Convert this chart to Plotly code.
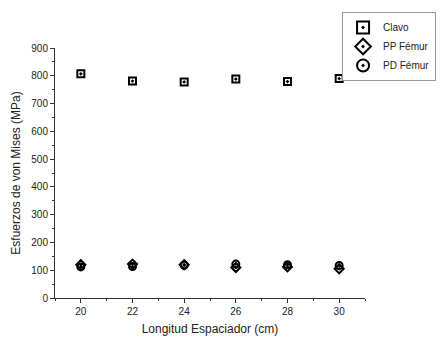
import plotly.graph_objects as go

longitud = [20, 22, 24, 26, 28, 30]
clavo = [807, 781, 778, 788, 779, 790]
pp_femur = [120, 122, 120, 110, 112, 105]
pd_femur = [112, 113, 118, 122, 120, 117]

fig = go.Figure()
series = [("Clavo", clavo, "square-open-dot"),
          ("PP Fémur", pp_femur, "diamond-open-dot"),
          ("PD Fémur", pd_femur, "circle-open-dot")]
for name, vals, sym in series:
    fig.add_trace(go.Scatter(x=longitud, y=vals, mode="markers", name=name,
                             marker=dict(symbol=sym, size=7, color="black",
                                         line=dict(width=2, color="black"))))

font = "Liberation Sans, Arial, sans-serif"
fig.update_layout(
    width=445, height=356,
    margin=dict(l=47, r=88, t=40, b=66, autoexpand=False),
    paper_bgcolor="white", plot_bgcolor="white",
    font=dict(family=font, size=10, color="#222"),
    showlegend=True,
    legend=dict(x=0.926, y=1.144, xanchor="left", yanchor="top",
                bordercolor="#999", borderwidth=1, font=dict(size=10),
                itemsizing="constant", tracegroupgap=0, itemwidth=30,
                traceorder="normal"),
    xaxis=dict(range=[19, 31], tickvals=[20, 22, 24, 26, 28, 30],
               automargin=False,
               showgrid=False, zeroline=False, showline=True,
               linecolor="#333", linewidth=1, ticks="outside", ticklen=4,
               minor=dict(ticks="outside", ticklen=2, dtick=1, tick0=19, tickcolor="#333"),
               tickcolor="#333",
               title=dict(text="Longitud Espaciador (cm)", font=dict(size=12), standoff=8)),
    yaxis=dict(range=[0, 900], dtick=100, showgrid=False, zeroline=False,
               automargin=False,
               showline=True, linecolor="#333", linewidth=1, ticks="outside",
               ticklen=4, tickcolor="#333",
               minor=dict(ticks="outside", ticklen=2, dtick=50, tickcolor="#333"),
               title=dict(text="Esfuerzos de von Mises (MPa)", font=dict(size=12), standoff=8)),
)
fig.write_html("out.html")
